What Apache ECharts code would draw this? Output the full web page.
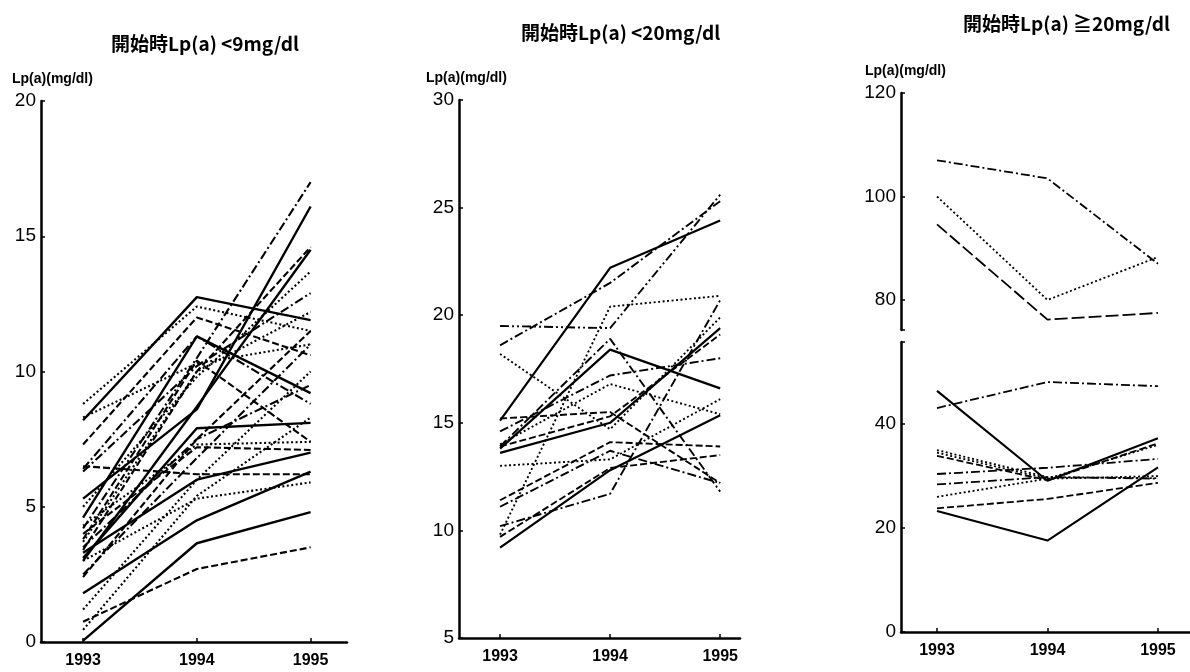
<!DOCTYPE html>
<html><head><meta charset="utf-8">
<script src="https://cdn.jsdelivr.net/npm/echarts@6/dist/echarts.min.js"></script>
<style>html,body{margin:0;padding:0;background:#fff}#c{width:1190px;height:672px}</style>
</head><body><div id="c"></div>
<script>
// ---- data ----
const years = [1993, 1994, 1995];
const titles = ['開始時Lp(a) <9mg/dl', '開始時Lp(a) <20mg/dl', '開始時Lp(a) ≧20mg/dl'];
const yName = 'Lp(a)(mg/dl)';
const ticksA = [0, 5, 10, 15, 20];
const ticksB = [5, 10, 15, 20, 25, 30];
const ticksCLow = [0, 20, 40];
const ticksCHigh = [80, 100, 120];

// panel 1: values at 1993, 1994, 1995
const panelA = [
  [8.2, 12.75, 11.9], [8.8, 12.4, 11.5], [7.3, 12.0, 10.6], [4.6, 11.3, 9.2],
  [5.3, 8.6, 16.1], [4.2, 10.5, 17.0], [3.4, 10.0, 14.6], [3.0, 8.7, 14.5],
  [6.3, 10.2, 12.9], [3.7, 10.0, 12.2], [2.4, 7.5, 11.5], [1.2, 6.0, 10.0],
  [3.1, 7.9, 8.1], [6.5, 6.2, 6.2], [4.3, 7.3, 7.4], [4.0, 7.2, 7.1],
  [3.3, 6.0, 7.0], [3.0, 5.3, 5.9], [1.8, 4.5, 6.3], [0.75, 2.7, 3.5],
  [0.05, 3.65, 4.8], [0.45, 5.4, 8.3], [3.5, 7.5, 9.5], [8.3, 10.3, 11.0],
  [3.8, 10.4, 7.4], [2.5, 6.8, 11.0], [5.0, 9.8, 13.7], [6.4, 11.3, 8.8]
];
// panel 2
const panelB = [
  [15.1, 22.2, 24.4], [18.6, 21.5, 25.3], [19.5, 19.4, 25.6], [9.8, 20.4, 20.9],
  [10.2, 11.7, 20.7], [18.2, 14.7, 19.9], [13.8, 18.4, 16.6], [13.9, 18.9, 11.8],
  [14.6, 17.2, 18.0], [14.0, 16.8, 15.4], [15.2, 15.5, 12.2], [9.2, 12.8, 15.35],
  [11.4, 14.1, 13.9], [11.1, 13.7, 12.2], [13.0, 13.3, 16.1], [9.7, 12.9, 13.5],
  [13.6, 15.0, 19.4], [13.9, 15.3, 19.1]
];
// panel 3, upper part (above the axis break)
const panelCHigh = [[107.0, 103.5, 87.0], [100.0, 80.0, 88.3], [94.6, 76.2, 77.5]];
// panel 3, lower part
const panelCLow = [
  [43.1, 48.1, 47.3], [46.4, 29.1, 37.3], [23.3, 17.6, 31.7], [23.8, 25.6, 28.7],
  [26.0, 29.5, 30.0], [28.4, 29.8, 29.5], [30.4, 31.6, 33.3], [35.0, 29.8, 29.6],
  [33.9, 29.2, 36.3], [34.5, 29.5, 36.0]
];

// ---- styles (kept apart from the data) ----
const DASH = {
  solid: 'solid', dashed: [7, 3], dotted: [2, 2.5], dashdot: [9, 3, 2, 3],
  dashdotdot: [9, 3, 2, 3, 2, 3], longdash: [13, 4]
};
const stylesA = ['solid','dotted','dashed','solid','solid','dashdot','dashed','solid','dashdot','dotted',
  'dashed','dotted','solid','dashed','dotted','dashed','solid','dotted','solid','dashed',
  'solid','dotted','dashdot','dotted','dashed','dashdot','dotted','dashdot'];
const stylesB = ['solid','dashdot','dashdotdot','dotted','dashdot','dotted','solid','dashdot','dashdot','dotted',
  'dashed','solid','dashed','dashdot','dotted','dashed','solid','dashed'];
const stylesCHigh = ['dashdot','dotted','longdash'];
const stylesCLow = ['dashdot','solid','solid','dashed','dotted','dashdot','dashdot','dotted','dashed','dotted'];

const FONT = 'Liberation Sans, Arial, sans-serif';
const CJK = 'Noto Sans CJK JP, sans-serif';

function xAxis(gi, min, max, show) {
  return {
    type: 'value', gridIndex: gi, min: min, max: max, show: show !== false,
    axisLine: { show: true, lineStyle: { color: '#000', width: 2.5 } },
    axisTick: { show: true, inside: true, length: 4, customValues: years, lineStyle: { color: '#000', width: 1.5 } },
    axisLabel: { customValues: years, formatter: v => String(v), color: '#000', fontSize: 16, fontWeight: 'bold', fontFamily: FONT, margin: 11 },
    splitLine: { show: false }
  };
}
function yAxis(gi, min, max, vals, tickVals) {
  return {
    type: 'value', gridIndex: gi, min: min, max: max,
    axisLine: { show: true, lineStyle: { color: '#000', width: 2.5 } },
    axisTick: { show: true, inside: true, length: 4, customValues: tickVals || vals, lineStyle: { color: '#000', width: 1.5 } },
    axisLabel: { customValues: vals, color: '#000', fontSize: 19, fontFamily: FONT, margin: 5 },
    splitLine: { show: false }
  };
}

const series = [];
function addSeries(list, styles, idx, w) {
  list.forEach((vals, i) => {
    series.push({
      type: 'line', xAxisIndex: idx, yAxisIndex: idx, symbol: 'none', silent: true,
      data: vals.map((v, k) => [years[k], v]),
      lineStyle: { color: '#000', width: styles[i] === 'solid' ? w + 0.3 : w, type: DASH[styles[i]] }
    });
  });
}
addSeries(panelA, stylesA, 0, 2.1);
addSeries(panelB, stylesB, 1, 1.9);
addSeries(panelCHigh, stylesCHigh, 2, 1.8);
addSeries(panelCLow, stylesCLow, 3, 1.8);

const TT = { fontFamily: CJK, fontSize: 19, fontWeight: 'bold', color: '#000' };
const YN = { fontFamily: FONT, fontSize: 14, fontWeight: 'bold', color: '#000' };
const chart = echarts.init(document.getElementById('c'), null, { renderer: 'canvas' });
chart.setOption({
  backgroundColor: '#fff',
  animation: false,
  title: [
    { text: titles[0], left: 106, top: 29, textStyle: TT },
    { text: titles[1], left: 516, top: 18, textStyle: TT },
    { text: titles[2], left: 958, top: 9, textStyle: TT },
    { text: yName, left: 7, top: 67, textStyle: YN },
    { text: yName, left: 421, top: 66, textStyle: YN },
    { text: yName, left: 860, top: 59, textStyle: YN }
  ],
  grid: [
    { left: 41, top: 101, width: 306, height: 541 },
    { left: 459, top: 100, width: 281, height: 538 },
    { left: 901, top: 93, width: 289, height: 237 },
    { left: 901, top: 342, width: 289, height: 290 }
  ],
  xAxis: [
    xAxis(0, 1992.63, 1995.32),
    xAxis(1, 1992.627, 1995.18),
    xAxis(2, 1992.674, 1995.29, false),
    xAxis(3, 1992.674, 1995.29)
  ],
  yAxis: [
    yAxis(0, 0, 20, ticksA),
    yAxis(1, 5, 30, ticksB),
    yAxis(2, 74.2, 120, ticksCHigh, [74.2].concat(ticksCHigh)),
    yAxis(3, 0, 55.8, ticksCLow, ticksCLow.concat([55.8]))
  ],
  series: series
});
</script></body></html>
